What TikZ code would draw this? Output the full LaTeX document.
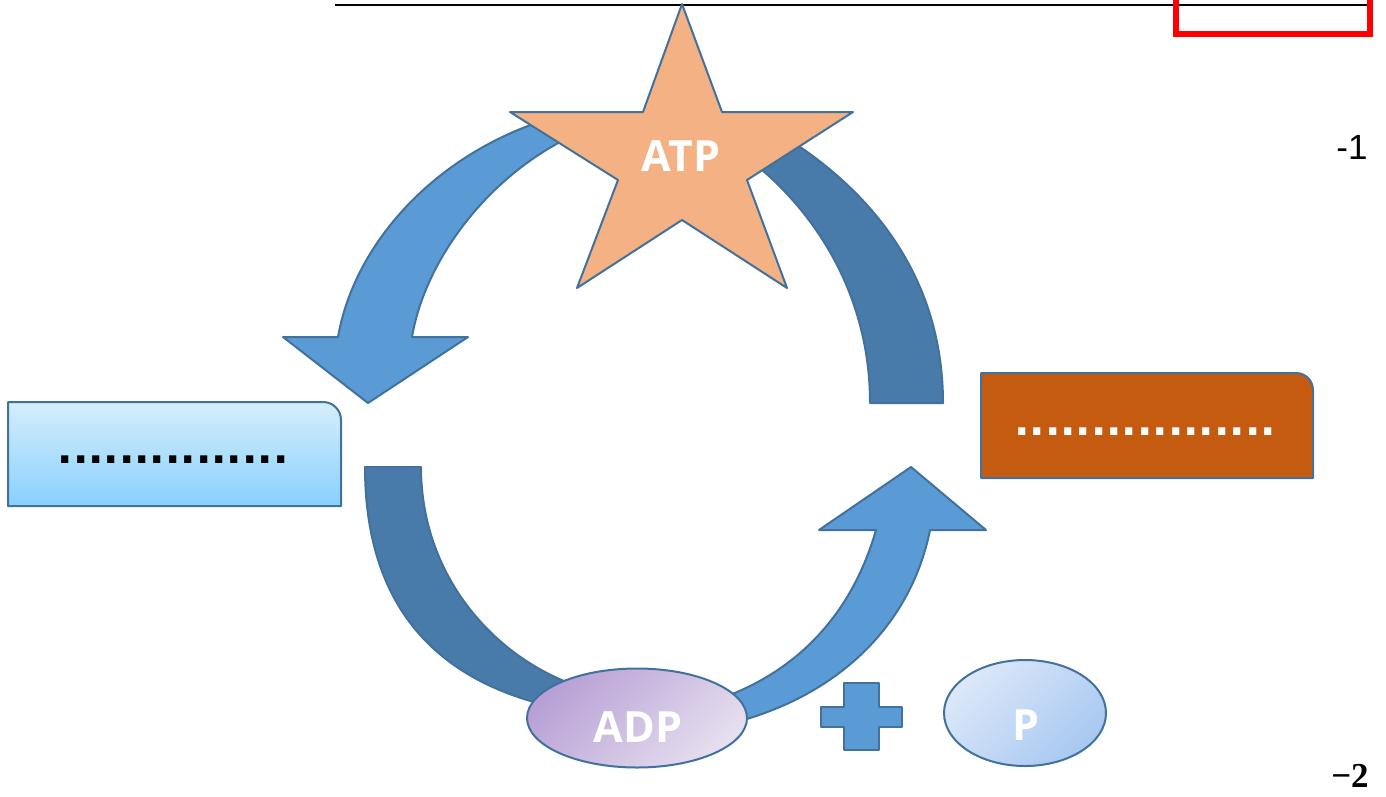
\documentclass[tikz,border=0pt]{standalone}
\usepackage{fontspec}
\setmainfont{Liberation Sans}
\newfontfamily\labfont{Open Sans}
\newfontfamily\dotfont{DejaVu Sans}
\newfontfamily\serfont{Liberation Serif}
\usetikzlibrary{shapes.geometric}
\definecolor{arclt}{HTML}{5B9BD5}
\definecolor{arcdk}{HTML}{487BAA}
\definecolor{bord}{HTML}{41719C}
\definecolor{starfill}{HTML}{F4B183}
\definecolor{rboxfill}{HTML}{C55A11}
\definecolor{lboxtop}{HTML}{D6EEFC}
\definecolor{lboxbot}{HTML}{88D0FD}
\definecolor{adpA}{HTML}{B8A0D5}
\definecolor{adpB}{HTML}{E6DFEF}
\definecolor{pA}{HTML}{DCE8F9}
\definecolor{pB}{HTML}{A8C8F1}
\tikzset{
  shapeline/.style={draw=bord, line width=2pt, line join=round},
  lightarrow/.style={shapeline, fill=arclt},
  darkarc/.style={shapeline, fill=arcdk},
  biglabel/.style={text=white, font=\labfont\bfseries\fontsize{43}{47}\selectfont, inner sep=0pt},
  dots/.style={font=\dotfont\bfseries\fontsize{40.5}{44}\selectfont, inner sep=0pt},
}
\begin{document}
\begin{tikzpicture}[x=1pt,y=-1pt]
\useasboundingbox (0,0) rectangle (1386,796);
% header line and red frame
\coordinate (hl) at (335,5);
\coordinate (hr) at (1370,5);
\draw[line width=2.5pt] (hl) -- (hr);
\draw[red, line width=6pt] (1176,-20) rectangle (1370,34);
% arcs
\path[lightarrow] (338,337) .. controls (355,240) and (440,150) .. (555,117) -- (585,130) .. controls (490,170) and (425,260) .. (412,337) -- (468,337) -- (368,403) -- (283,337) -- cycle;
\path[darkarc] (943,403) .. controls (943,290) and (885,200) .. (785,137) -- (750,160) .. controls (820,215) and (870,300) .. (870,403) -- cycle;
\path[darkarc] (365,467) .. controls (365,610) and (440,690) .. (580,712) -- (590,690) .. controls (500,665) and (421,580) .. (421,467) -- cycle;
\path[lightarrow] (710,728) .. controls (830,705) and (910,630) .. (930,530) -- (986,530) -- (911,467) -- (819,530) -- (876,530) .. controls (850,620) and (790,680) .. (700,705) -- cycle;
% star
\path[shapeline, fill=starfill] (682,4) -- (722,112) -- (853,112) -- (747,180) -- (787,288) -- (682,220) -- (577,288) -- (618,180) -- (510,112) -- (643,112) -- cycle;
\node[biglabel] (atp) at (681,156) {ATP};
% boxes
\path[shapeline, top color=lboxtop, bottom color=lboxbot] (8,506) -- (8,402) -- (323,402) to[out=0,in=90] (341,420) -- (341,506) -- cycle;
\node[dots, text=black] (ldots) at (173,460) {...............};
\path[shapeline, fill=rboxfill] (981,478) -- (981,373) -- (1296,373) to[out=0,in=90] (1313,390) -- (1313,478) -- cycle;
\node[dots, text=white] (rdots) at (1145,432) {.................};
% ADP
\node[ellipse, shapeline, minimum width=220pt, minimum height=99pt, inner sep=0pt, top color=adpA, bottom color=adpB, shading angle=45] (adp) at (637,718) {};
\node[biglabel] (adptext) at (638,727) {ADP};
% plus
\path[shapeline, fill=arclt] (844,683) -- (879,683) -- (879,707) -- (902,707) -- (902,727) -- (879,727) -- (879,750) -- (844,750) -- (844,727) -- (821,727) -- (821,707) -- (844,707) -- cycle;
% P
\node[ellipse, shapeline, minimum width=162pt, minimum height=106pt, inner sep=0pt, top color=pA, bottom color=pB, shading angle=45] (pell) at (1025,713) {};
\node[biglabel] (ptext) at (1026,725) {P};
% numbers
\node[inner sep=0pt, font=\fontsize{35}{38}\selectfont] (n1) at (1352,147) {-1};
\node[inner sep=0pt, font=\serfont\bfseries\fontsize{35}{38}\selectfont] (n2) at (1350,776) {−2};
\end{tikzpicture}
\end{document}
